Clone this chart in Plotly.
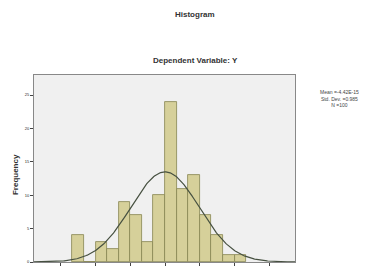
import numpy as np
import plotly.graph_objects as go

# ---- data ----
bin_start = -8/3
bin_width = 1/3
frequencies = [4, 0, 3, 2, 9, 7, 3, 10, 24, 11, 13, 7, 4, 1, 1]
x_ticks = [-3, -2, -1, 0, 1, 2, 3]
y_ticks = [0, 5, 10, 15, 20, 25]
stat_mean = -4.42e-15
stat_sd = 0.985
stat_n = 100

centers = [bin_start + bin_width * (i + 0.5) for i in range(len(frequencies))]

FONT = "Liberation Sans, Arial, sans-serif"
fig = go.Figure()
fig.add_trace(go.Bar(
    x=centers, y=frequencies, width=bin_width,
    marker=dict(color="#D6D09A", line=dict(color="#868452", width=0.8)),
    showlegend=False, hoverinfo="skip",
))

xs = np.linspace(-3.77, 3.74, 300)
ys = stat_n * bin_width / (stat_sd * np.sqrt(2 * np.pi)) * np.exp(-0.5 * ((xs - stat_mean) / stat_sd) ** 2)
fig.add_trace(go.Scatter(x=xs, y=ys, mode="lines",
                         line=dict(color="#465040", width=1.2),
                         showlegend=False, hoverinfo="skip"))

# page has an 8px body margin; figure is sized/offset to compensate
fig.update_layout(
    width=359, height=260,
    margin=dict(l=26, r=72, t=67, b=6),
    paper_bgcolor="white", plot_bgcolor="#F0F0F0",
    font=dict(family=FONT, color="#222"),
    bargap=0,
    template="none",
    xaxis=dict(range=[-3.77, 3.74], tickvals=x_ticks, ticks="outside", ticklen=3,
               tickfont=dict(size=5), showgrid=False, zeroline=False,
               showline=True, linecolor="#888", linewidth=1, mirror=True, automargin=False),
    yaxis=dict(range=[0, 28], tickvals=y_ticks, ticks="outside", ticklen=3,
               tickfont=dict(size=4), showgrid=False, zeroline=False,
               showline=True, linecolor="#888", linewidth=1, mirror=True, automargin=False),
    annotations=[
        dict(text="<b>Histogram</b>", xref="paper", yref="paper", x=0.617, y=1.326,
             xanchor="center", yanchor="middle",
             showarrow=False, font=dict(size=8, color="#333")),
        dict(text="<b>Dependent Variable: Y</b>", xref="paper", yref="paper", x=0.617, y=1.080,
             xanchor="center", yanchor="middle",
             showarrow=False, font=dict(size=8, color="#333")),
        dict(text="<b>Frequency</b>", xref="paper", yref="paper", x=-0.073, y=0.47,
             xanchor="center", yanchor="middle",
             textangle=-90, showarrow=False, font=dict(size=8, color="#333")),
        dict(text="Mean =-4.42E-15<br>Std. Dev. =0.985<br>N =100", xref="paper", yref="paper",
             x=1.172, y=0.877, xanchor="center", yanchor="middle", showarrow=False, align="center",
             font=dict(size=5, color="#444")),
    ],
)

fig.write_html("out.html")
